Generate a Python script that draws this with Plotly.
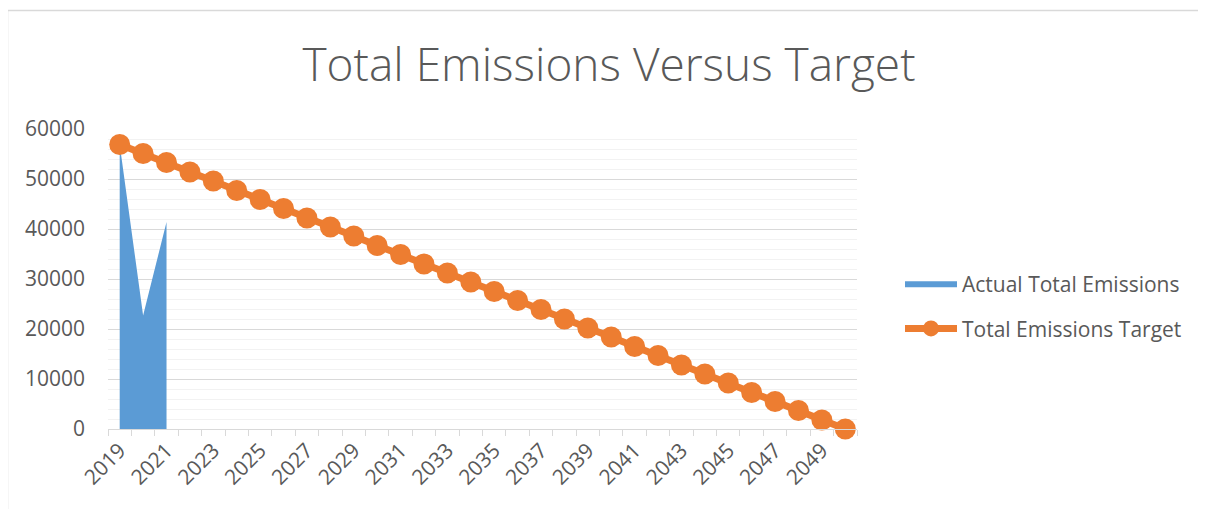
import plotly.graph_objects as go

years = list(range(2019, 2051))
actual_years = [2019, 2020, 2021]
actual_total = [56900, 22700, 41400]
target_total = [56900, 55100, 53300, 51400, 49600, 47700, 45900, 44100, 42200, 40400,
                38600, 36700, 34900, 33000, 31200, 29400, 27500, 25700, 23900, 22000,
                20200, 18400, 16500, 14700, 12800, 11000, 9200, 7300, 5500, 3700, 1800, 0]
label_years = list(range(2019, 2050, 2))
boundaries = [y - 0.5 for y in range(2019, 2052)]

# page is offset by the default 8px body margin
OFF = 8
W, H = 1206 - OFF, 509 - OFF
L, R, T, B = 108, 857, 129, 429          # plot area in page pixels
GREY = "#595959"
FONT = "Open Sans"

fig = go.Figure()
fig.add_trace(go.Scatter(
    x=actual_years, y=actual_total, name="Actual Total Emissions",
    mode="none", fill="tozeroy", fillcolor="#5B9BD5", legendgroup="a",
))
fig.add_trace(go.Scatter(
    x=years, y=target_total, name="Total Emissions Target",
    mode="lines+markers", line=dict(color="#ED7D31", width=7),
    marker=dict(color="#ED7D31", size=21), cliponaxis=False, legendgroup="b",
))

def px2paper_x(p):
    return (p - L) / (R - L)

def px2paper_y(p):
    return (B - p) / (B - T)

fig.update_layout(
    width=W, height=H,
    margin=dict(l=L - OFF, r=1206 - R, t=T - OFF, b=509 - B, pad=0),
    paper_bgcolor="white", plot_bgcolor="white",
    font=dict(family=FONT, color=GREY, size=20),
    title=dict(text="Total Emissions Versus Target", x=(609 - OFF) / W, xanchor="center",
               y=1 - (65 - OFF) / H, yanchor="middle",
               font=dict(family=FONT, size=46, color=GREY, weight=300)),
    showlegend=True,
    legend=dict(x=px2paper_x(900), xanchor="left", y=px2paper_y(264), yanchor="top",
                font=dict(family=FONT, size=21, color=GREY), itemwidth=52,
                traceorder="grouped", tracegroupgap=14, bgcolor="rgba(0,0,0,0)"),
    xaxis=dict(
        range=[2018.5, 2050.5], tickmode="array", tickvals=label_years,
        ticktext=[str(y) for y in label_years], tickangle=-45, ticks="",
        showgrid=False, zeroline=False, showline=True, linecolor="#D9D9D9", linewidth=1,
        tickfont=dict(family=FONT, size=21, color=GREY),
        minor=dict(tickmode="array", tickvals=boundaries, ticks="outside", ticklen=6,
                   tickcolor="#D9D9D9", tickwidth=1, showgrid=False),
    ),
    yaxis=dict(
        range=[0, 60000], tickmode="linear", tick0=0, dtick=10000, tickformat="d",
        showgrid=True, gridcolor="#D9D9D9", gridwidth=1, zeroline=False, showline=False,
        ticks="", ticklabelstandoff=22,
        tickfont=dict(family=FONT, size=21, color=GREY),
        minor=dict(tickmode="linear", tick0=0, dtick=2000, showgrid=True,
                   gridcolor="#F2F2F2", gridwidth=1),
    ),
    shapes=[dict(type="rect", xref="paper", yref="paper",
                 x0=px2paper_x(7.5), x1=px2paper_x(1250), y0=px2paper_y(560), y1=px2paper_y(10.5),
                 line=dict(color="#D9D9D9", width=1.5), fillcolor="rgba(0,0,0,0)", layer="below")],
)

fig.write_html("out.html")
